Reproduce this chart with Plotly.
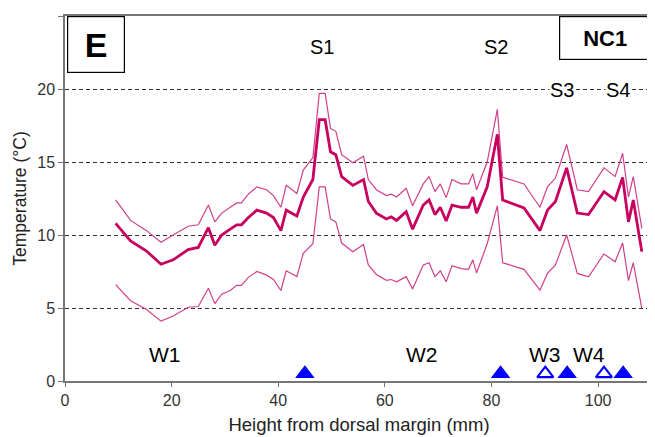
import plotly.graph_objects as go

height_mm = [9.5, 12.3, 15.3, 18.0, 20.3, 23.1, 25.0, 26.9, 28.1, 29.4, 31.0, 32.2, 33.1, 34.4,
             36.0, 37.8, 39.1, 40.5, 41.5, 43.5, 44.7, 46.5, 47.7, 48.8, 49.8, 50.8, 51.9, 54.0,
             56.0, 56.9, 58.4, 60.3, 61.2, 62.2, 64.0, 65.2, 67.2, 68.3, 69.4, 70.4, 71.5, 72.6,
             74.3, 75.7, 76.5, 77.2, 79.2, 81.1, 82.1, 86.1, 89.1, 90.5, 92.0, 94.1, 96.1, 98.2,
             101.1, 103.2, 104.6, 105.7, 106.6, 108.2]
temp_mean = [10.8, 9.6, 8.9, 8.0, 8.3, 9.0, 9.15, 10.5, 9.3, 10.0, 10.4, 10.7, 10.7, 11.2,
             11.7, 11.5, 11.2, 10.3, 11.7, 11.3, 12.6, 13.8, 17.9, 17.9, 15.7, 15.5, 14.0, 13.4,
             13.8, 12.3, 11.5, 11.1, 11.25, 11.0, 11.6, 10.4, 12.05, 12.4, 11.4, 11.9, 10.96, 12.05,
             11.9, 11.9, 12.6, 11.5, 13.3, 16.9, 12.4, 11.85, 10.3, 11.7, 12.3, 14.6, 11.5, 11.4,
             12.97, 12.4, 13.95, 10.9, 12.4, 8.86]
temp_upper = [12.4, 11.0, 10.3, 9.5, 10.0, 10.6, 10.7, 12.05, 10.9, 11.5, 11.9, 12.2, 12.2, 12.8,
              13.3, 13.1, 12.7, 11.9, 13.4, 12.85, 14.45, 15.3, 19.7, 19.7, 17.3, 17.1, 15.5, 14.95,
              15.4, 13.8, 13.1, 12.7, 12.8, 12.6, 13.2, 12.0, 13.5, 14.0, 12.97, 13.5, 12.56, 13.8,
              13.5, 13.5, 14.2, 13.1, 15.0, 18.6, 13.95, 13.5, 11.9, 13.3, 13.9, 16.2, 13.1, 12.97,
              14.6, 14.0, 15.6, 12.6, 14.0, 10.45]
temp_lower = [6.6, 5.5, 4.9, 4.1, 4.45, 5.05, 5.1, 6.35, 5.3, 5.95, 6.2, 6.55, 6.55, 7.1,
              7.5, 7.25, 6.95, 6.2, 7.55, 7.15, 8.75, 9.4, 13.3, 13.3, 11.1, 10.9, 9.45, 8.86,
              9.35, 7.95, 7.3, 6.9, 6.95, 6.8, 7.15, 6.3, 7.95, 8.1, 7.15, 7.55, 6.8, 7.9,
              7.7, 7.65, 8.3, 7.4, 9.4, 12.0, 8.1, 7.65, 6.23, 7.37, 7.95, 10.0, 7.37, 7.14,
              8.7, 8.17, 9.47, 6.87, 8.1, 4.98]

filled_tri_x = [45.0, 81.7, 94.2, 104.7]
open_tri_x = [90.1, 101.1]
tri_y = 0.5

peak_labels = ["S1", "S2", "S3", "S4"]
peak_x = [48.2, 80.9, 93.2, 103.8]
peak_y = [22.9, 22.9, 19.9, 19.9]
winter_labels = ["W1", "W2", "W3", "W4"]
winter_x = [18.8, 67.0, 90.0, 98.2]
winter_y = [1.8, 1.8, 1.8, 1.8]

x_ticks = [0, 20, 40, 60, 80, 100]
y_ticks = [0, 5, 10, 15, 20, 25]

FONT = "Liberation Sans, Arial, sans-serif"
thin_col = "#D0408A"
mean_col = "#C8005F"

# The page body has an 8px default margin, so the figure is 8px smaller
# than the window and the left/top margins are reduced by 8px.
PAGE_OFFSET = 8

fig = go.Figure()
fig.add_trace(go.Scatter(x=height_mm, y=temp_upper, mode="lines",
                         line=dict(color=thin_col, width=1.2), showlegend=False))
fig.add_trace(go.Scatter(x=height_mm, y=temp_lower, mode="lines",
                         line=dict(color=thin_col, width=1.2), showlegend=False))
fig.add_trace(go.Scatter(x=height_mm, y=temp_mean, mode="lines",
                         line=dict(color=mean_col, width=2.8), showlegend=False))
fig.add_trace(go.Scatter(x=filled_tri_x, y=[tri_y] * len(filled_tri_x), mode="markers",
                         marker=dict(symbol="triangle-up", size=17, color="#0000FF",
                                     line=dict(width=0)), showlegend=False, cliponaxis=False))
fig.add_trace(go.Scatter(x=open_tri_x, y=[tri_y] * len(open_tri_x), mode="markers",
                         marker=dict(symbol="triangle-up-open", size=14, color="#0000FF",
                                     line=dict(width=2.2, color="#0000FF")), showlegend=False,
                         cliponaxis=False))

for t, x, y in zip(peak_labels, peak_x, peak_y):
    fig.add_annotation(x=x, y=y, text=t, showarrow=False,
                       font=dict(family=FONT, size=20, color="black"),
                       bgcolor="white", borderpad=0)
for t, x, y in zip(winter_labels, winter_x, winter_y):
    fig.add_annotation(x=x, y=y, text=t, showarrow=False,
                       font=dict(family=FONT, size=21, color="black"))

# Panel label boxes
fig.add_annotation(xref="paper", yref="paper", x=0.0035, y=1.0, xanchor="left", yanchor="top",
                   text="<b>E</b>", showarrow=False, width=54, height=53,
                   font=dict(family=FONT, size=34, color="black"),
                   bordercolor="black", borderwidth=1.2, bgcolor="white", borderpad=1)
fig.add_annotation(xref="paper", yref="paper", x=0.9966, y=1.0, xanchor="right", yanchor="top",
                   text="<b>NC1</b>", showarrow=False, width=88, height=40,
                   font=dict(family=FONT, size=22, color="black"),
                   bordercolor="black", borderwidth=1.2, bgcolor="white", borderpad=1)

fig.update_layout(
    width=655 - PAGE_OFFSET, height=437 - PAGE_OFFSET,
    margin=dict(l=65 - PAGE_OFFSET, r=2, t=16 - PAGE_OFFSET, b=56, autoexpand=False),
    paper_bgcolor="white", plot_bgcolor="white",
    font=dict(family=FONT, size=16, color="#333"),
    xaxis=dict(range=[0, 110.3], tickvals=x_ticks, showgrid=False, zeroline=False,
               automargin=False,
               showline=True, linecolor="#777", linewidth=1.5, mirror=True,
               ticks="outside", ticklen=4, tickcolor="#777",
               title=dict(text="Height from dorsal margin (mm)", standoff=10,
                          font=dict(family=FONT, size=18.5, color="#222")),
               tickfont=dict(family=FONT, size=16, color="#333")),
    yaxis=dict(range=[0, 25], tickvals=y_ticks, showgrid=True, gridcolor="#333",
               griddash="4px,3px", gridwidth=1, zeroline=False,
               automargin=False,
               showline=True, linecolor="#777", linewidth=1.5, mirror=True,
               ticks="outside", ticklen=5, tickcolor="#777",
               title=dict(text="Temperature (°C)", standoff=6,
                          font=dict(family=FONT, size=17.5, color="#222")),
               tickfont=dict(family=FONT, size=16, color="#333")),
)

fig.write_html("out.html")
